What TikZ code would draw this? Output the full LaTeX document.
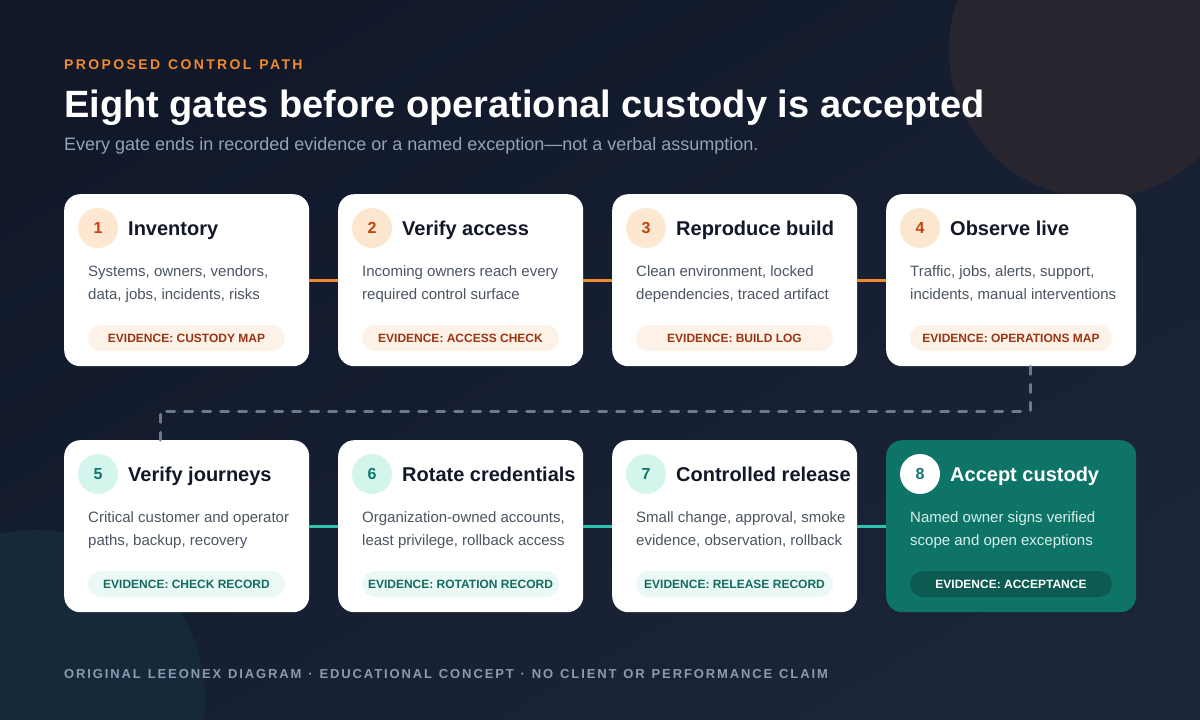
\documentclass[tikz,border=0pt]{standalone}
\usepackage{fontspec}
\setmainfont{Liberation Sans}
\newfontfamily\trackfont[LetterSpace=17,WordSpace=1.25]{Liberation Sans}
\newfontfamily\footfont[LetterSpace=14.5,WordSpace=1.25]{Liberation Sans}
\usepackage{tikz}
\usetikzlibrary{positioning}

\definecolor{bgA}{HTML}{10182A}
\definecolor{bgB}{HTML}{1C2538}
\definecolor{blobTop}{HTML}{29252F}
\definecolor{blobLow}{HTML}{16293A}
\definecolor{kicker}{HTML}{F28A2E}
\definecolor{subgrey}{HTML}{94A3B8}
\definecolor{footgrey}{HTML}{8A9AAF}
\definecolor{ink}{HTML}{111827}
\definecolor{body}{HTML}{4B5563}
\definecolor{peach}{HTML}{FDE7D1}
\definecolor{rust}{HTML}{C2410C}
\definecolor{pillO}{HTML}{FDF2E7}
\definecolor{pillOtext}{HTML}{9A3412}
\definecolor{mint}{HTML}{D4F5EC}
\definecolor{tealtext}{HTML}{0F766E}
\definecolor{pillT}{HTML}{EAF9F5}
\definecolor{pillTtext}{HTML}{146B60}
\definecolor{linkOrange}{HTML}{F08A2C}
\definecolor{linkTeal}{HTML}{2CC2AE}
\definecolor{dashgrey}{HTML}{6B7A91}
\definecolor{accept}{HTML}{0E7468}
\definecolor{acceptpill}{HTML}{0B5B52}
\definecolor{acceptbody}{HTML}{D6F0EA}

\begin{document}
\begin{tikzpicture}[x=1pt,y=-1pt,
  card/.style={fill=white, rounded corners=16, minimum height=172, inner sep=0, anchor=north west},
  badgeO/.style={circle, fill=peach, text=rust, minimum size=40, inner sep=0, font=\bfseries\fontsize{16}{16}\selectfont},
  badgeT/.style={badgeO, fill=mint, text=tealtext},
  ttl/.style={anchor=base west, inner sep=0, text=ink, font=\bfseries\fontsize{20}{24}\selectfont},
  desc/.style={anchor=north west, inner sep=0, align=left, text=body, font=\fontsize{15}{23}\selectfont},
  pill/.style={rounded corners=13, minimum height=26, inner sep=0, font=\bfseries\fontsize{12}{12}\selectfont},
  evidO/.style={pill, fill=pillO, text=pillOtext},
  evidT/.style={pill, fill=pillT, text=pillTtext},
  linkO/.style={draw=linkOrange, line width=3},
  linkT/.style={draw=linkTeal, line width=3},
  dashlink/.style={draw=dashgrey, line width=3, line cap=round, dash pattern=on 8 off 10}]

% canvas
\useasboundingbox (0,0) rectangle (1200,720);
\begin{scope}
\clip (0,0) rectangle (1200,720);
\shade[top color=bgA, bottom color=bgB, shading angle=30] (0,0) rectangle (1200,720);
\fill[blobTop] (1097,50) circle (148);
\fill[blobLow] (35,700) circle (170);
\end{scope}

% heading
\node[anchor=base west, inner sep=0, text=kicker] (kick) at (64,69) {\trackfont\bfseries\fontsize{14}{14}\selectfont PROPOSED CONTROL PATH};
\node[anchor=base west, inner sep=0, text=white, font=\bfseries\fontsize{38}{40}\selectfont] (title) at (64,117) {Eight gates before operational custody is accepted};
\node[anchor=base west, inner sep=0, text=subgrey, font=\fontsize{18}{20}\selectfont] (sub) at (64,150) {Every gate ends in recorded evidence or a named exception—not a verbal assumption.};

% first row
\node[card, minimum width=245] (c1) at (64,194) {};
\node[card, minimum width=245] (c2) at (338,194) {};
\node[card, minimum width=245] (c3) at (612,194) {};
\node[card, minimum width=250] (c4) at (886,194) {};

\node[badgeO] (b1) at (98,228) {1};
\node[ttl] (t1) at (128,235) {Inventory};
\node[desc] (d1) at (88,265) {Systems, owners, vendors,\\data, jobs, incidents, risks};
\node[evidO, minimum width=197] (e1) at (186.5,338) {EVIDENCE: CUSTODY MAP};

\node[badgeO] (b2) at (372,228) {2};
\node[ttl] (t2) at (402,235) {Verify access};
\node[desc] (d2) at (362,265) {Incoming owners reach every\\required control surface};
\node[evidO, minimum width=197] (e2) at (460.5,338) {EVIDENCE: ACCESS CHECK};

\node[badgeO] (b3) at (646,228) {3};
\node[ttl] (t3) at (676,235) {Reproduce build};
\node[desc] (d3) at (636,265) {Clean environment, locked\\dependencies, traced artifact};
\node[evidO, minimum width=197] (e3) at (734.5,338) {EVIDENCE: BUILD LOG};

\node[badgeO] (b4) at (920,228) {4};
\node[ttl] (t4) at (950,235) {Observe live};
\node[desc] (d4) at (910,265) {Traffic, jobs, alerts, support,\\incidents, manual interventions};
\node[evidO, minimum width=202] (e4) at (1011,338) {EVIDENCE: OPERATIONS MAP};

% second row
\node[card, minimum width=245] (c5) at (64,440) {};
\node[card, minimum width=245] (c6) at (338,440) {};
\node[card, minimum width=245] (c7) at (612,440) {};
\node[card, minimum width=250, fill=accept] (c8) at (886,440) {};

\node[badgeT] (b5) at (98,474) {5};
\node[ttl] (t5) at (128,481) {Verify journeys};
\node[desc] (d5) at (88,511) {Critical customer and operator\\paths, backup, recovery};
\node[evidT, minimum width=197] (e5) at (186.5,584) {EVIDENCE: CHECK RECORD};

\node[badgeT] (b6) at (372,474) {6};
\node[ttl] (t6) at (402,481) {Rotate credentials};
\node[desc] (d6) at (362,511) {Organization-owned accounts,\\least privilege, rollback access};
\node[evidT, minimum width=197] (e6) at (460.5,584) {EVIDENCE: ROTATION RECORD};

\node[badgeT] (b7) at (646,474) {7};
\node[ttl] (t7) at (676,481) {Controlled release};
\node[desc] (d7) at (636,511) {Small change, approval, smoke\\evidence, observation, rollback};
\node[evidT, minimum width=197] (e7) at (734.5,584) {EVIDENCE: RELEASE RECORD};

\node[badgeT, fill=white] (b8) at (920,474) {8};
\node[ttl, text=white] (t8) at (950,481) {Accept custody};
\node[desc, text=acceptbody] (d8) at (910,511) {Named owner signs verified\\scope and open exceptions};
\node[pill, fill=acceptpill, text=white, minimum width=202] (e8) at (1011,584) {EVIDENCE: ACCEPTANCE};

% links
\draw[linkO] (c1) -- (c2);
\draw[linkO] (c2) -- (c3);
\draw[linkO] (c3) -- (c4);
\draw[linkT] (c5) -- (c6);
\draw[linkT] (c6) -- (c7);
\draw[linkT] (c7) -- (c8);
\coordinate (turnR) at (1030,411);
\coordinate (turnL) at (160,411);
\draw[dashlink] (c4.south -| turnR) -- (turnR) -- (turnL) -- (c5.north -| turnL);

% footer
\node[anchor=base west, inner sep=0, text=footgrey] (foot) at (64,678) {\footfont\bfseries\fontsize{13}{13}\selectfont ORIGINAL LEEONEX DIAGRAM · EDUCATIONAL CONCEPT · NO CLIENT OR PERFORMANCE CLAIM};
\end{tikzpicture}
\end{document}
